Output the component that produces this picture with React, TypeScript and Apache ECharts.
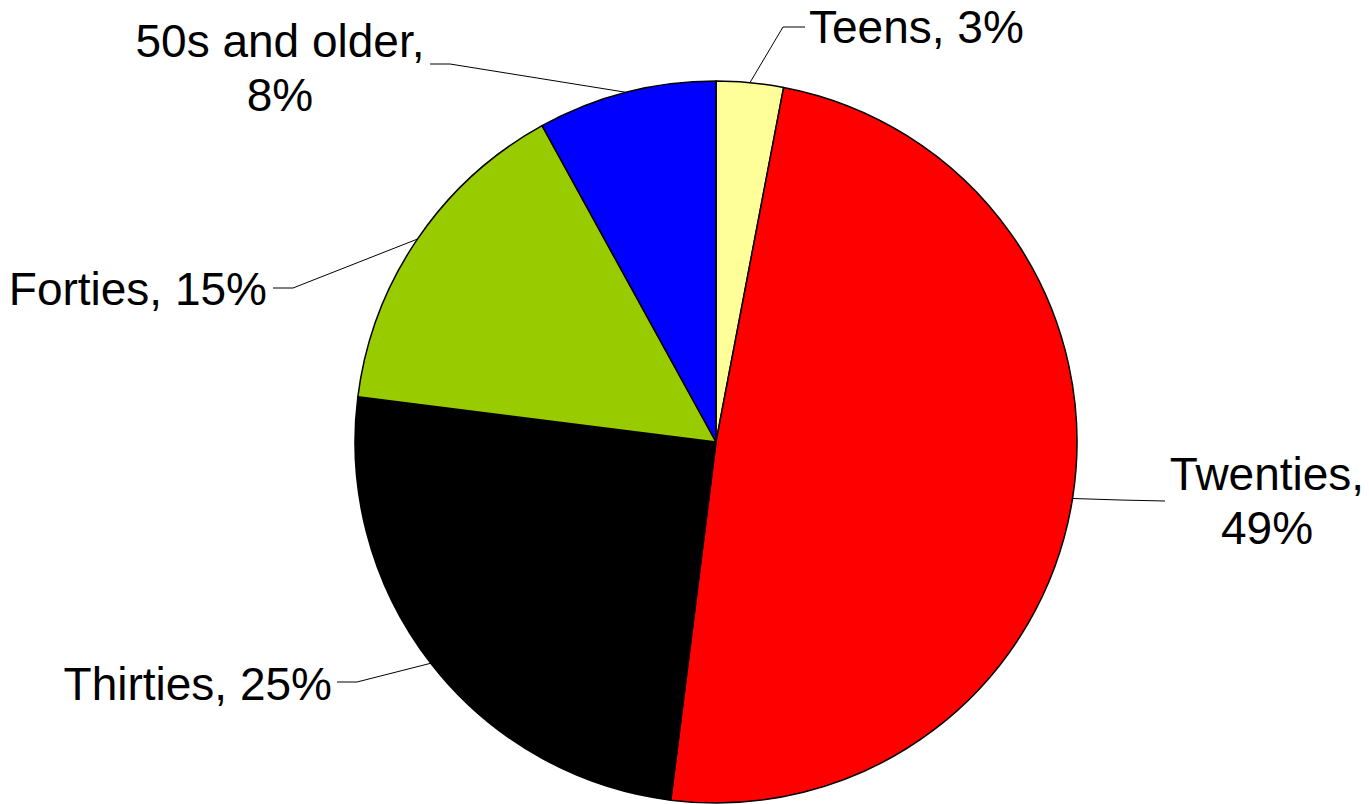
import React, { useEffect, useRef } from "react";
import * as echarts from "echarts";

const categories = ["Teens", "Twenties", "Thirties", "Forties", "50s and older"];
const values = [3, 49, 25, 15, 8];
const colors = ["#FFFF99", "#FF0000", "#000000", "#99CC00", "#0000FF"];
const wrappedLabels = ["Twenties", "50s and older"];

// label placement (layout only)
const labelPos = [
  { x: 809, y: 27, align: "left" },
  { x: 1267, y: 501, align: "center" },
  { x: 332, y: 684, align: "right" },
  { x: 267, y: 289, align: "right" },
  { x: 280, y: 68, align: "center" },
];
// label line bend / end (layout only)
const linePts = [
  [[783, 27], [805, 27]],
  [[1120, 500], [1165, 501]],
  [[357, 682], [337, 682]],
  [[293, 288], [273, 288]],
  [[450, 64], [430, 64]],
];

export default function App() {
  const ref = useRef<HTMLDivElement>(null);
  useEffect(() => {
    if (!ref.current) return;
    const chart = echarts.init(ref.current, null, { renderer: "svg" });
    const cx = 716, cy = 442, r = 361;
    const total = values.reduce((a, b) => a + b, 0);
    chart.setOption({
      animation: false,
      backgroundColor: "#ffffff",
      series: [
        {
          type: "pie",
          center: [cx, cy],
          radius: [0, r],
          startAngle: 90,
          clockwise: true,
          avoidLabelOverlap: false,
          data: categories.map((name, i) => ({
            name,
            value: values[i],
            itemStyle: { color: colors[i] },
          })),
          itemStyle: { borderColor: "#000000", borderWidth: 1.5 },
          label: {
            show: true,
            position: "outside",
            color: "#000000",
            fontFamily: "'Liberation Sans', Arial, sans-serif",
            fontSize: 46,
            lineHeight: 54,
            formatter: (p: any) => {
              const pct = Math.round((p.value / total) * 100) + "%";
              return wrappedLabels.includes(p.name)
                ? p.name + ",\n" + pct
                : p.name + ", " + pct;
            },
          },
          labelLine: {
            show: true,
            length: 20,
            length2: 20,
            lineStyle: { color: "#000000", width: 1 },
          },
          emphasis: { disabled: true },
          labelLayout: (params: any) => {
            const i = params.dataIndex;
            const lp = labelPos[i];
            const out: any = {
              x: lp.x,
              y: lp.y,
              align: lp.align,
              verticalAlign: "middle",
            };
            const pts = params.labelLinePoints;
            let p0: number[];
            if (pts && pts.length) {
              p0 = [pts[0][0], pts[0][1]];
            } else {
              let acc = 0;
              for (let k = 0; k < i; k++) acc += values[k];
              const a = ((acc + values[i] / 2) / total) * Math.PI * 2;
              p0 = [cx + r * Math.sin(a), cy - r * Math.cos(a)];
            }
            out.labelLinePoints = [p0, linePts[i][0], linePts[i][1]];
            return out;
          },
        },
      ],
    });
    return () => chart.dispose();
  }, []);
  return (
    <div
      ref={ref}
      style={{ position: "absolute", left: 0, top: 0, width: 1369, height: 804 }}
    />
  );
}
